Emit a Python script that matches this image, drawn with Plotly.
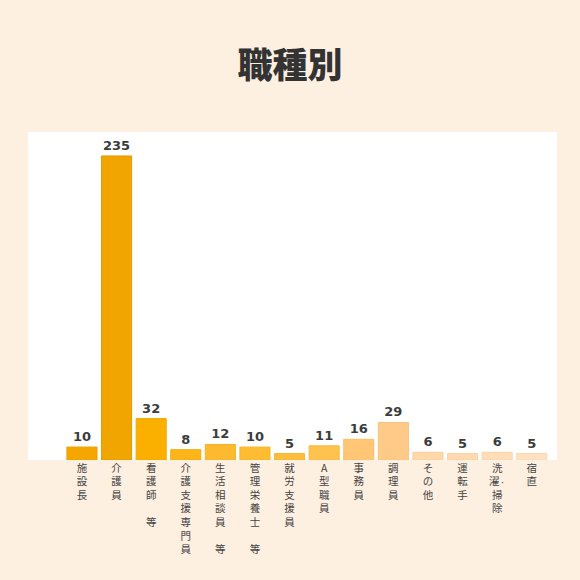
import plotly.graph_objects as go

# 職種別の人数
categories = ['施設長', '介護員', '看護師　等', '介護支援専門員', '生活相談員　等',
              '管理栄養士　等', '就労支援員', 'A型職員', '事務員', '調理員',
              'その他', '運転手', '洗濯・掃除', '宿直']
counts = [10, 235, 32, 8, 12, 10, 5, 11, 16, 29, 6, 5, 6, 5]
bar_colors = ['#F5A700', '#F0A500', '#FBB000', '#FDB51A', '#FDBA2E', '#FEBC33',
              '#FEBE3C', '#FFC24E', '#FFC676', '#FFCA88', '#FFD7A8', '#FFDAB0',
              '#FFDDB6', '#FFE0BF']
line_colors = ['#EBA000', '#E69C00', '#F2A900', '#F5AE10', '#F5B228', '#F6B52D',
               '#F7B736', '#F8BA46', '#F8BE6C', '#F8C27E', '#F8D09E', '#F8D3A6',
               '#F8D6AC', '#F8D8B4']


def vertical(label):
    # 縦書き風に1文字ずつ改行、全角スペースは空行にする
    lines = []
    for ch in label:
        if ch == '・':
            lines[-1] = lines[-1] + '<span style="font-size:6px">・</span>'
        else:
            lines.append(ch)
    return '<br>'.join(lines)


tick_text = [vertical(c) for c in categories]

fig = go.Figure(
    go.Bar(
        x=list(range(len(categories))),
        y=counts,
        width=0.87,
        marker=dict(color=bar_colors, line=dict(color=line_colors, width=1)),
        text=[str(v) for v in counts],
        textposition='outside',
        cliponaxis=False,
        textfont=dict(family='DejaVu Sans', size=13, color='#3c3c3c', weight='bold'),
        hoverinfo='skip',
    )
)

fig.update_layout(
    width=580,
    height=580,
    margin=dict(l=28, r=23, t=132, b=120),
    paper_bgcolor='#FEF0E1',
    plot_bgcolor='#FFFFFF',
    showlegend=False,
    title=dict(
        text='職種別',
        x=0.5,
        xanchor='center',
        y=0.886,
        yanchor='middle',
        font=dict(family='Noto Sans CJK JP', size=35, color='#333333', weight=900),
    ),
    xaxis=dict(
        range=[-1.56, 13.73],
        tickmode='array',
        tickvals=list(range(len(categories))),
        ticktext=tick_text,
        tickangle=0,
        ticks='',
        showgrid=False,
        zeroline=False,
        showline=False,
        tickfont=dict(family='Noto Sans CJK JP', size=10.5, color='#444444'),
    ),
    yaxis=dict(
        range=[0, 253.5],
        showgrid=False,
        zeroline=False,
        showline=False,
        showticklabels=False,
        ticks='',
    ),
)

fig.write_html('out.html', config={'displayModeBar': False},
               post_script="document.body.style.margin='0';")
